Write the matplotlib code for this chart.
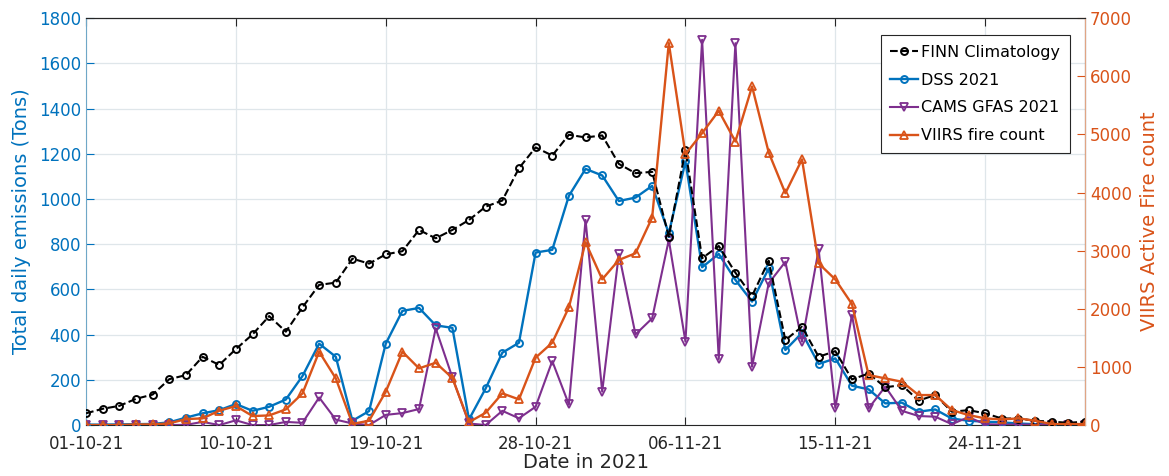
import numpy as np
import pandas as pd
import matplotlib
matplotlib.use('Agg')
from matplotlib import pyplot as plt
import matplotlib.dates as mdates

# daily values, 1 Oct 2021 .. 30 Nov 2021
dates = pd.date_range('2021-10-01', '2021-11-30', freq='D')

finn = [52, 72, 85, 116, 135, 203, 221, 302, 266, 336,
        401, 482, 413, 521, 620, 630, 736, 714, 755, 769,
        863, 826, 863, 907, 966, 993, 1136, 1228, 1192, 1284,
        1272, 1281, 1155, 1114, 1120, 834, 1217, 738, 792, 674,
        571, 727, 376, 435, 302, 327, 202, 228, 167, 177,
        108, 133, 59, 66, 52, 29, 29, 19, 15, 10, 15]

dss = [2, 2, 3, 4, 5, 12, 33, 52, 66, 93,
       63, 81, 113, 217, 360, 302, 19, 62, 360, 505,
       518, 441, 430, 25, 162, 320, 364, 763, 775, 1014,
       1133, 1104, 991, 1006, 1058, 848, 1166, 698, 757, 642,
       546, 693, 332, 408, 270, 295, 174, 158, 96, 99,
       59, 69, 29, 19, 15, 12, 7, 4, 4, 3, 3]

cams = [0, 0, 0, 0, 0, 0, 1, 14, 0, 21,
        0, 0, 14, 10, 122, 24, 7, 0, 45, 53,
        71, 428, 211, 7, 0, 63, 30, 81, 283, 91,
        907, 148, 757, 401, 472, 819, 369, 1704, 292, 1689,
        258, 627, 722, 369, 777, 76, 487, 74, 170, 63,
        40, 37, 4, 35, 4, 2, 2, 2, 2, 2, 2]

viirs = [0, 0, 0, 11, 11, 29, 103, 115, 247, 327,
         155, 166, 270, 545, 1261, 803, 20, 75, 573, 1261,
         975, 1072, 810, 50, 212, 545, 442, 1159, 1417, 2026,
         3144, 2507, 2840, 2955, 3569, 6570, 4659, 5021, 5405, 4877,
         5824, 4688, 3988, 4570, 2780, 2505, 2081, 860, 803, 745,
         516, 516, 258, 172, 115, 97, 115, 75, 17, 17, 17]

blue = '#0072BD'
orange = '#D95319'
purple = '#7E2F8E'

fig = plt.figure(figsize=(11.69, 4.76), dpi=100)
ax = fig.add_axes([0.0736, 0.107, 0.8546, 0.855])
ax2 = ax.twinx()

# left axis series
l1, = ax.plot(dates, finn, color='black', linestyle='--', linewidth=1.5,
              marker='o', markersize=5, markerfacecolor='none', markeredgewidth=1.4,
              label='FINN Climatology', zorder=4)
l2, = ax.plot(dates, dss, color=blue, linewidth=1.7,
              marker='o', markersize=5, markerfacecolor='none', markeredgewidth=1.4,
              label='DSS 2021', zorder=3)
l3, = ax.plot(dates, cams, color=purple, linewidth=1.5,
              marker='v', markersize=5.5, markerfacecolor='none', markeredgewidth=1.3,
              label='CAMS GFAS 2021', zorder=3)
# right axis series
l4, = ax2.plot(dates, viirs, color=orange, linewidth=1.7,
               marker='^', markersize=5.5, markerfacecolor='none', markeredgewidth=1.3,
               label='VIIRS fire count')

ax.set_xlim(dates[0], dates[-1])
ax.set_ylim(0, 1800)
ax2.set_ylim(0, 7000)
ax.set_yticks(np.arange(0, 1801, 200))
ax2.set_yticks(np.arange(0, 7001, 1000))

ax.set_xticks(dates[::9])
ax.xaxis.set_major_formatter(mdates.DateFormatter('%d-%m-%y'))

ax.grid(True, color='#dfe6ea', linewidth=0.9)
ax.set_axisbelow(True)

ax.tick_params(axis='x', direction='in', length=6, colors='#262626', labelsize=12, top=True, pad=7)
ax.tick_params(axis='y', direction='in', length=6, colors=blue, labelcolor=blue, labelsize=12)
ax2.tick_params(axis='y', direction='in', length=6, colors=orange, labelcolor=orange, labelsize=12)

ax.spines['left'].set_color('#6fa7c7')
ax.spines['bottom'].set_color('#262626')
ax.spines['top'].set_color('#262626')
ax2.spines['right'].set_color('#e0a584')
ax2.spines['left'].set_visible(False)
ax2.spines['top'].set_color('#262626')
ax2.spines['bottom'].set_visible(False)

ax.set_ylabel('Total daily emissions (Tons)', color=blue, fontsize=14, labelpad=6)
ax2.set_ylabel('VIIRS Active Fire count', color=orange, fontsize=14, labelpad=6)
ax.set_xlabel('Date in 2021', color='#262626', fontsize=14, labelpad=0)

leg = ax2.legend(handles=[l1, l2, l3, l4], loc='upper right',
                 bbox_to_anchor=(0.985, 0.958), borderaxespad=0,
                 fontsize=11.5, frameon=True, fancybox=False,
                 edgecolor='#262626', framealpha=1,
                 handlelength=1.75, handletextpad=0.2, labelspacing=0.8,
                 borderpad=0.6)
leg.get_frame().set_linewidth(0.8)

fig.savefig('out.png', dpi=100)
